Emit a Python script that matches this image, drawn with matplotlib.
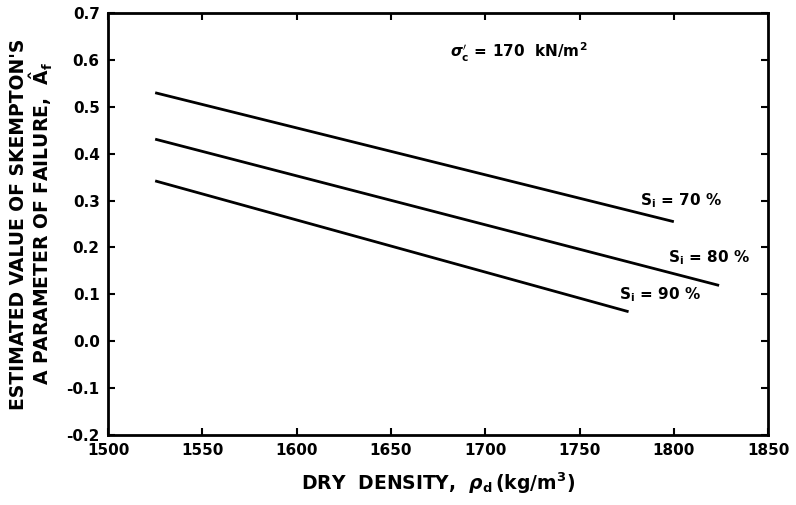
import numpy as np
import matplotlib.pyplot as plt

# end points of the three straight lines (dry density kg/m3, A_f)
rho_70 = [1525, 1800]
af_70 = [0.53, 0.255]
rho_80 = [1525, 1824]
af_80 = [0.431, 0.119]
rho_90 = [1525, 1776]
af_90 = [0.342, 0.063]

x_ticks = [1500, 1550, 1600, 1650, 1700, 1750, 1800, 1850]
y_ticks = [-0.2, -0.1, 0.0, 0.1, 0.2, 0.3, 0.4, 0.5, 0.6, 0.7]

plt.rcParams['font.family'] = 'DejaVu Sans'
plt.rcParams['font.weight'] = 'bold'
plt.rcParams['mathtext.default'] = 'bf'

fig = plt.figure(figsize=(7.96, 5.05), dpi=100)
ax = fig.add_axes([0.1357, 0.1386, 0.8293, 0.8356])

for xs, ys in [(rho_70, af_70), (rho_80, af_80), (rho_90, af_90)]:
    ax.plot(xs, ys, color='black', lw=2.0, solid_capstyle='butt')

ax.set_xlim(1500, 1850)
ax.set_ylim(-0.2, 0.7)
ax.set_xticks(x_ticks)
ax.set_yticks(y_ticks)
ax.set_xticklabels([str(v) for v in x_ticks], fontsize=11, fontweight='bold')
ax.set_yticklabels(['%.1f' % v for v in y_ticks], fontsize=11, fontweight='bold')
ax.tick_params(direction='in', length=5, width=1.5, top=True, right=True, pad=6)
for s in ax.spines.values():
    s.set_linewidth(2.0)

ax.set_xlabel(r'DRY  DENSITY,  $\mathit{\rho}_d\,$(kg/m$^3$)', fontsize=13.5, fontweight='bold', labelpad=9)
ax.set_ylabel("ESTIMATED VALUE OF SKEMPTON'S\nA PARAMETER OF FAILURE,  $\\hat{A}_f$",
              fontsize=13.5, fontweight='bold', labelpad=8, linespacing=1.0)

ax.text(1718, 0.615, r"$\mathit{\sigma}_c'$ = 170  kN/m$^2$", fontsize=11, fontweight='bold', ha='center', va='center')
ax.text(1782, 0.30, r"S$_i$ = 70 %", fontsize=11, fontweight='bold', ha='left', va='center')
ax.text(1797, 0.178, r"S$_i$ = 80 %", fontsize=11, fontweight='bold', ha='left', va='center')
ax.text(1771, 0.099, r"S$_i$ = 90 %", fontsize=11, fontweight='bold', ha='left', va='center')

fig.savefig('out.png', dpi=100)
